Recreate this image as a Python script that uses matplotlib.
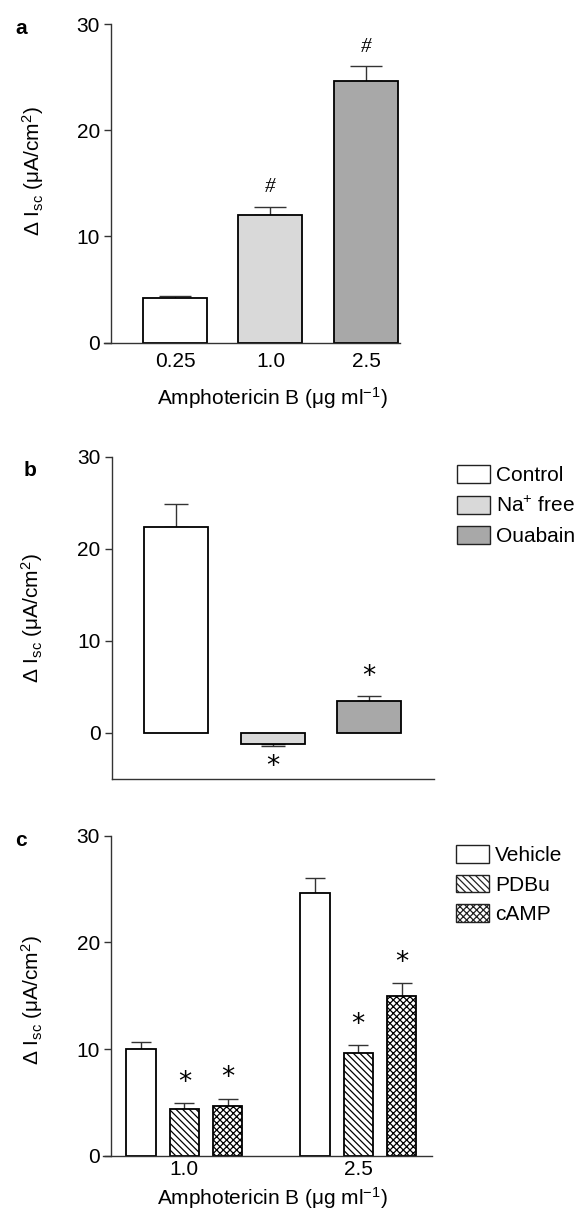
import numpy as np
import matplotlib
matplotlib.use("Agg")
import matplotlib.pyplot as plt
from matplotlib.patches import Patch

# ---------------- data ----------------
a_labels = ["0.25", "1.0", "2.5"]
a_values = [4.2, 12.0, 24.6]
a_errors = [0.2, 0.8, 1.4]
a_marks = ["", "#", "#"]

b_labels = ["Control", "Na$^{+}$ free", "Ouabain"]
b_values = [22.4, -1.15, 3.5]
b_errors = [2.5, 0.3, 0.55]
b_marks = ["", "*", "*"]

c_groups = ["1.0", "2.5"]
c_series = ["Vehicle", "PDBu", "cAMP"]
c_vehicle = [10.0, 24.6]
c_vehicle_err = [0.7, 1.4]
c_pdbu = [4.35, 9.6]
c_pdbu_err = [0.6, 0.8]
c_camp = [4.65, 15.0]
c_camp_err = [0.7, 1.2]
c_marks = [["", "*", "*"], ["", "*", "*"]]

ylabel = "Δ I$_{sc}$ (μA/cm$^{2}$)"
xlabel = "Amphotericin B (μg ml$^{-1}$)"

# ---------------- style ----------------
plt.rcParams['font.family'] = ['Liberation Sans', 'DejaVu Sans']
plt.rcParams['mathtext.fontset'] = 'custom'
plt.rcParams['mathtext.rm'] = 'Liberation Sans'
plt.rcParams['mathtext.it'] = 'Liberation Sans'
plt.rcParams['mathtext.default'] = 'regular'
plt.rcParams['hatch.linewidth'] = 0.9
FS = 15
SPINE = '#333333'

W, H = 578, 1221
fig = plt.figure(figsize=(W / 100, H / 100), dpi=100)


def fig_axes(x0, x1, ytop, ybot):
    return fig.add_axes([x0 / W, 1 - ybot / H, (x1 - x0) / W, (ybot - ytop) / H])


def style(ax, xpad):
    for s in ['top', 'right']:
        ax.spines[s].set_visible(False)
    for s in ['left', 'bottom']:
        ax.spines[s].set_color(SPINE)
        ax.spines[s].set_linewidth(1.0)
    ax.tick_params(axis='y', direction='out', length=5, width=1.0, color=SPINE,
                   labelsize=FS, pad=3)
    ax.tick_params(axis='x', length=0, labelsize=FS, pad=xpad)
    ax.set_yticks([0, 10, 20, 30])


star = dict(family='DejaVu Sans', ha='center', va='center', fontsize=19)

# ---------------- panel a ----------------
axa = fig_axes(104, 400, 24, 342.7)
xa = np.arange(len(a_values))
axa.bar(xa, a_values, width=0.67, color=['white', '#d9d9d9', '#a8a8a8'],
        edgecolor='black', linewidth=1.3, zorder=2)
axa.errorbar(xa, a_values, yerr=[np.zeros(3), a_errors], fmt='none',
             ecolor=SPINE, elinewidth=1.0, capsize=11.5, capthick=1.0, zorder=1)
for x, v, e, m in zip(xa, a_values, a_errors, a_marks):
    if m:
        axa.text(x, v + e + 1.8, m, fontsize=15, style='italic',
                 family='Liberation Serif', ha='center', va='center')
axa.set_xlim(-0.743, 2.356)
axa.set_ylim(0, 30)
style(axa, 7)
axa.spines['left'].set_position(('data', -0.67))
axa.set_xticks(xa)
axa.set_xticklabels(a_labels)
fig.text(272 / W, 1 - 398 / H, xlabel, ha='center', va='center', fontsize=FS)
fig.text(33 / W, 1 - 171 / H, ylabel, ha='center', va='center', rotation=90, fontsize=FS)
fig.text(21 / W, 1 - 28 / H, 'a', ha='center', va='center', fontsize=FS, fontweight='bold')

# ---------------- panel b ----------------
axb = fig_axes(111.7, 434, 456.7, 779)
xb = np.arange(len(b_values))
bcolors = ['white', '#d9d9d9', '#a8a8a8']
axb.bar(xb, b_values, width=0.665, color=bcolors, edgecolor='black',
        linewidth=1.3, zorder=2)
lo = [e if v < 0 else 0 for v, e in zip(b_values, b_errors)]
hi = [e if v >= 0 else 0 for v, e in zip(b_values, b_errors)]
axb.errorbar(xb, b_values, yerr=[lo, hi], fmt='none', ecolor=SPINE,
             elinewidth=1.0, capsize=8.3, capthick=1.0, zorder=1)
for x, v, e, m in zip(xb, b_values, b_errors, b_marks):
    if m:
        y = v + e + 2.0 if v >= 0 else v - e - 2.3
        axb.text(x, y, m, **star)
axb.set_xlim(-0.671, 2.677)
axb.set_ylim(-5, 30)
style(axb, 7)
axb.set_xticks([])
fig.text(32 / W, 1 - 618 / H, ylabel, ha='center', va='center', rotation=90, fontsize=FS)
fig.text(30 / W, 1 - 471 / H, 'b', ha='center', va='center', fontsize=FS, fontweight='bold')
hb = [Patch(facecolor=c, edgecolor='#222222', linewidth=1.0) for c in bcolors]
axb.legend(hb, b_labels, loc='upper left', bbox_to_anchor=(457 / W, 1 - 465 / H),
           bbox_transform=fig.transFigure, frameon=False, fontsize=FS,
           handlelength=1.6, handleheight=0.95, handletextpad=0.28,
           labelspacing=0.5, borderpad=0, borderaxespad=0)

# ---------------- panel c ----------------
axc = fig_axes(103.3, 431.7, 835.7, 1155.7)
xc = np.arange(len(c_groups))
off = 0.249
wc = 0.17
series = [(c_vehicle, c_vehicle_err, 'white', ''),
          (c_pdbu, c_pdbu_err, 'white', '\\\\\\\\\\'),
          (c_camp, c_camp_err, 'white', 'xxxxx')]
handles = []
for i, (vals, errs, col, hatch) in enumerate(series):
    pos = xc + (i - 1) * off
    axc.bar(pos, vals, width=wc, color=col, edgecolor='black',
            linewidth=1.3, hatch=hatch, zorder=2)
    axc.errorbar(pos, vals, yerr=[np.zeros(len(vals)), errs], fmt='none',
                 ecolor=SPINE, elinewidth=1.0, capsize=7.2, capthick=1.0, zorder=1)
    for g, (p, v, e) in enumerate(zip(pos, vals, errs)):
        m = c_marks[g][i]
        if m:
            axc.text(p, v + e + 1.9, m, **star)
    handles.append(Patch(facecolor=col, edgecolor='#222222', linewidth=1.0, hatch=hatch))
axc.set_xlim(-0.466, 1.422)
axc.set_ylim(0, 30)
style(axc, 3)
axc.spines['left'].set_position(('data', -0.421))
axc.set_xticks(xc)
axc.set_xticklabels(c_groups)
fig.text(272 / W, 1 - 1198 / H, xlabel, ha='center', va='center', fontsize=FS)
fig.text(32 / W, 1 - 1000 / H, ylabel, ha='center', va='center', rotation=90, fontsize=FS)
fig.text(21 / W, 1 - 840 / H, 'c', ha='center', va='center', fontsize=FS, fontweight='bold')
axc.legend(handles, c_series, loc='upper left', bbox_to_anchor=(455.7 / W, 1 - 845 / H),
           bbox_transform=fig.transFigure, frameon=False, fontsize=FS,
           handlelength=1.6, handleheight=0.95, handletextpad=0.28,
           labelspacing=0.45, borderpad=0, borderaxespad=0)

fig.savefig('out.png', dpi=100, facecolor='white')
